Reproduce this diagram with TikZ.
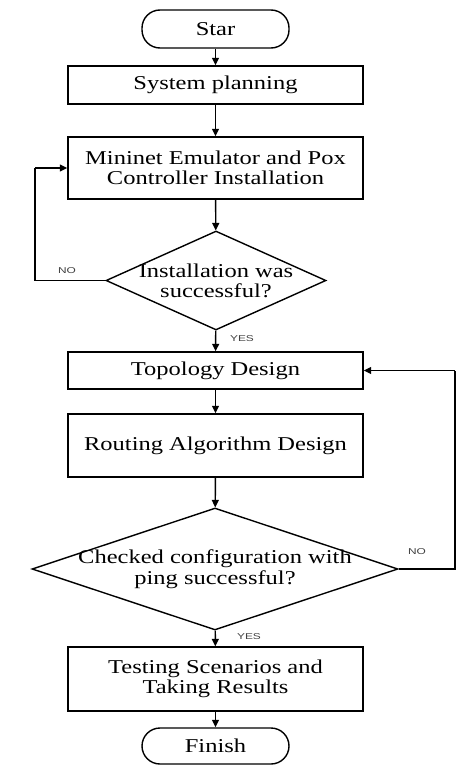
\documentclass[tikz,border=0pt]{standalone}
\usepackage{fontspec}
\setmainfont{Liberation Serif}[FakeStretch=1.25]
\newfontfamily\labfont{Liberation Sans}[FakeStretch=1.4]
\usetikzlibrary{shapes.geometric,arrows.meta}
\begin{document}
\begin{tikzpicture}[x=1pt,y=1pt,
  every node/.style={font=\fontsize{19.6}{20.5}\selectfont, text=black},
  boxst/.style={draw, line width=1.4pt, minimum width=295pt, inner sep=0pt, align=center},
  termst/.style={draw, line width=1.4pt, rounded corners=18pt, minimum width=147pt, inner sep=0pt},
  diast/.style={draw, line width=1.4pt, diamond, inner sep=0pt},
  txt/.style={align=center, inner sep=0pt},
  lab/.style={font=\labfont\fontsize{8.5}{9}\selectfont, text=black!75, inner sep=0pt},
  arr/.style={line width=1.4pt, -{Triangle[length=7.5pt,width=7pt]}},
  ln/.style={line width=1.4pt}]
\useasboundingbox (0,0) rectangle (462,-765);
\node[termst, minimum height=38pt] (start) at (215.5,-29) {Star};
\node[boxst, minimum height=38pt] (sys) at (215.5,-85) {System planning};
\node[boxst, minimum height=62pt] (mini) at (215.5,-168) {Mininet Emulator and Pox\\Controller Installation};
\node[diast, minimum width=220pt, minimum height=99pt] (d1) at (216,-280.5) {};
\node[txt] (d1t) at (216,-281) {Installation was\\successful?};
\node[boxst, minimum height=37pt] (topo) at (215.5,-370.5) {Topology Design};
\node[boxst, minimum height=63pt] (rout) at (215.5,-445.5) {Routing Algorithm Design};
\node[diast, minimum width=366pt, minimum height=122pt] (d2) at (215,-569) {};
\node[txt] (d2t) at (215,-569) {Checked configuration with\\ping successful?};
\node[boxst, minimum height=64pt] (test) at (215.5,-679) {Testing Scenarios and\\Taking Results};
\node[termst, minimum height=36pt] (fin) at (215.5,-746) {Finish};
\coordinate (l1) at (35,-280.5);
\coordinate (l2) at (35,-168);
\coordinate (r1) at (455,-569);
\coordinate (r2) at (455,-370.5);
\draw[arr] (start) -- (sys);
\draw[arr] (sys) -- (mini);
\draw[arr] (mini) -- (d1);
\draw[arr] (d1) -- (topo);
\draw[ln] (d1.west) -- (l1) -- (l2);
\draw[arr] (l2) -- (mini.west);
\draw[arr] (topo) -- (rout);
\draw[arr] (rout) -- (d2);
\draw[arr] (d2) -- (test);
\draw[ln] (d2.east) -- (r1) -- (r2);
\draw[arr] (r2) -- (topo.east);
\draw[arr] (test) -- (fin);
\node[lab] (no1) at (67,-271) {NO};
\node[lab] (yes1) at (242,-339) {YES};
\node[lab] (no2) at (417,-552) {NO};
\node[lab] (yes2) at (249,-637) {YES};
\end{tikzpicture}
\end{document}
